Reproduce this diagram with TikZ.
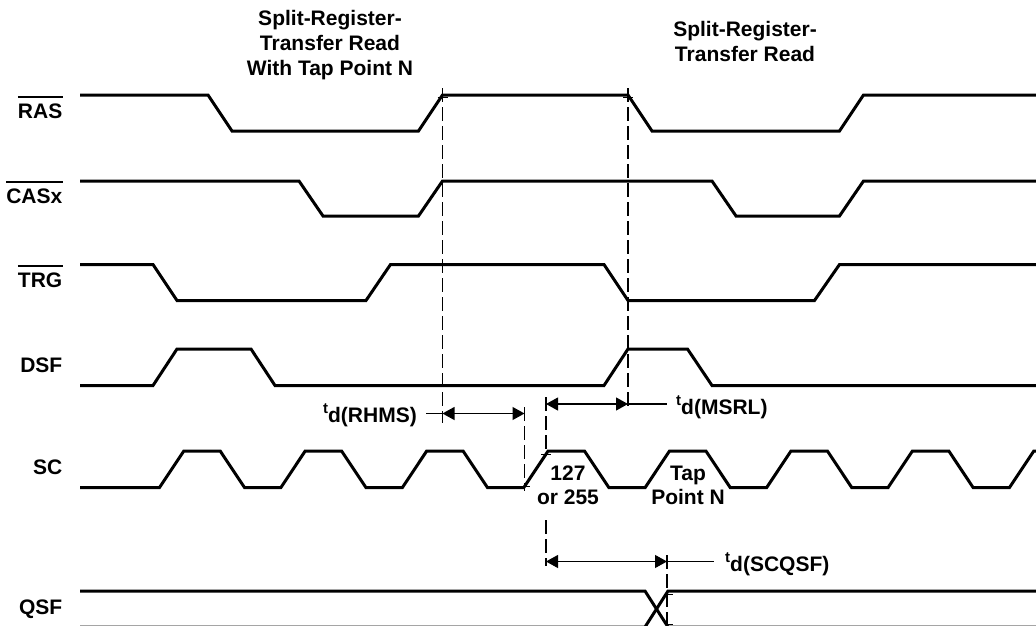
\documentclass[tikz,border=0pt]{standalone}
\usepackage{fontspec}
\setmainfont{Liberation Sans}
\usetikzlibrary{arrows.meta,calc}
\begin{document}
\begin{tikzpicture}[x=1pt,y=-1pt,
  wave/.style={line width=3pt,line join=miter},
  dline/.style={line width=1.1pt,dash pattern=on 14pt off 5pt},
  dim/.style={line width=1.1pt,{Triangle[length=12pt,width=13pt]}-{Triangle[length=12pt,width=13pt]}},
  lead/.style={line width=1.1pt},
  tickmark/.style={line width=1pt},
  siglabel/.style={font=\fontsize{21}{25}\selectfont\bfseries,anchor=base east,inner sep=0pt},
  txt/.style={font=\fontsize{21}{25}\selectfont\bfseries,align=center,inner sep=0pt},
  tlabel/.style={font=\fontsize{21}{25}\selectfont\bfseries,inner sep=0pt},
  bar/.style={line width=2pt}]
\clip (0,0) rectangle (1036,626);
\useasboundingbox (0,0) rectangle (1036,626);

% titles
\node[txt,anchor=north] (title1) at (330,10) {Split-Register-\\Transfer Read\\With Tap Point N};
\node[txt,anchor=north] (title2) at (745,21) {Split-Register-\\Transfer Read};

% signal labels
\node[siglabel] (lras) at (62.5,118) {RAS};
\node[siglabel] (lcas) at (62.5,203.5) {CASx};
\node[siglabel] (ltrg) at (62.5,287.5) {TRG};
\node[siglabel] (ldsf) at (62.5,372.5) {DSF};
\node[siglabel] (lsc) at (62.5,474.5) {SC};
\node[siglabel] (lqsf) at (62.5,614) {QSF};
\draw[bar] ([yshift=6.5pt]lras.north west) -- ([yshift=6.5pt]lras.north east);
\draw[bar] ([yshift=6.5pt]lcas.north west) -- ([yshift=6.5pt]lcas.north east);
\draw[bar] ([yshift=6.5pt]ltrg.north west) -- ([yshift=6.5pt]ltrg.north east);

% waveforms
\draw[wave] (80,95) -- (208,95) -- (232,131) -- (418.5,131) -- (442.5,95) -- (628,95) -- (652,131) -- (839.5,131) -- (863.5,95) -- (1040,95);
\draw[wave] (80,181) -- (299,181) -- (323,216) -- (418.5,216) -- (442.5,181) -- (712,181) -- (736,216) -- (839.5,216) -- (863.5,181) -- (1040,181);
\draw[wave] (80,264.5) -- (153,264.5) -- (177,300.5) -- (366,300.5) -- (390.5,264.5) -- (604,264.5) -- (628,300.5) -- (814.5,300.5) -- (839.5,264.5) -- (1040,264.5);
\draw[wave] (80,385.5) -- (153,385.5) -- (177,349) -- (251,349) -- (275,385.5) -- (604,385.5) -- (628,349) -- (687.5,349) -- (712,385.5) -- (1040,385.5);
\draw[wave] (80,487.5) -- (159.5,487.5) -- (183.8,451) -- (220.2,451) -- (244.5,487.5) -- (280.9,487.5) -- (305.2,451) -- (341.6,451) -- (365.9,487.5) -- (402.4,487.5) -- (426.7,451) -- (463.1,451) -- (487.4,487.5) -- (523.8,487.5) -- (548.1,451) -- (584.5,451) -- (608.8,487.5) -- (645.2,487.5) -- (669.5,451) -- (705.9,451) -- (730.2,487.5) -- (766.7,487.5) -- (791.0,451) -- (827.4,451) -- (851.7,487.5) -- (888.1,487.5) -- (912.4,451) -- (948.8,451) -- (973.1,487.5) -- (1009.5,487.5) -- (1033.8,451) -- (1040,451);
\draw[wave] (80,591) -- (645,591) -- (668,627) -- (1040,627);
\draw[wave] (80,627) -- (645,627) -- (668,591) -- (1040,591);

% dashed reference lines
\coordinate (d1t) at (442.5,88);  \coordinate (d1b) at (442.5,423);
\coordinate (d2t) at (628,88);    \coordinate (d2b) at (628,409);
\coordinate (d3t) at (524.5,407); \coordinate (d3b) at (524.5,491);
\coordinate (d4t) at (546,397);   \coordinate (d4m) at (546,456);
\coordinate (d4u) at (546,520);   \coordinate (d4b) at (546,566);
\coordinate (d5t) at (667,555);   \coordinate (d5b) at (667,628);
\draw[dline] (d1t) -- (d1b);
\draw[dline] (d2t) -- (d2b);
\draw[dline] (d3t) -- (d3b);
\draw[dline] (d4t) -- (d4m);
\draw[dline] (d4u) -- (d4b);
\draw[dline] (d5t) -- (d5b);

% crosshair ticks
\draw[tickmark] (437.5,97.5) -- (447.5,97.5);
\draw[tickmark] (623,97.5) -- (633,97.5);
\draw[tickmark] (519.5,486) -- (529.5,486);
\draw[tickmark] (541,454) -- (551,454);
\draw[tickmark] (665,594) -- (673,594);
\draw[tickmark] (665,624) -- (673,624);

% dimension arrows
\coordinate (a1l) at (442.5,413.5); \coordinate (a1r) at (524.5,413.5); \coordinate (a1e) at (426,413.5);
\coordinate (a2l) at (546,404);     \coordinate (a2r) at (628,404);     \coordinate (a2e) at (667,404);
\coordinate (a3l) at (546,561.5);   \coordinate (a3r) at (667,561.5);   \coordinate (a3e) at (714,561.5);
\draw[dim] (a1l) -- (a1r);
\draw[lead] (a1e) -- (a1l);
\draw[dim] (a2l) -- (a2r);
\draw[lead] (a2r) -- (a2e);
\draw[dim] (a3l) -- (a3r);
\draw[lead] (a3r) -- (a3e);

% timing labels
\node[tlabel,anchor=base east] (trhms) at (417,422) {\raisebox{9pt}{\fontsize{15}{15}\selectfont t}d(RHMS)};
\node[tlabel,anchor=base west] (tmsrl) at (676,414) {\raisebox{9pt}{\fontsize{15}{15}\selectfont t}d(MSRL)};
\node[tlabel,anchor=base west] (tscqsf) at (725,571) {\raisebox{9pt}{\fontsize{15}{15}\selectfont t}d(SCQSF)};

% pulse labels
\node[txt,anchor=north,font=\fontsize{21}{23.5}\selectfont\bfseries] (n127) at (568,466) {127\\or 255};
\node[txt,anchor=north,font=\fontsize{21}{23.5}\selectfont\bfseries] (ntap) at (688,466) {Tap\\Point N};
\end{tikzpicture}
\end{document}
